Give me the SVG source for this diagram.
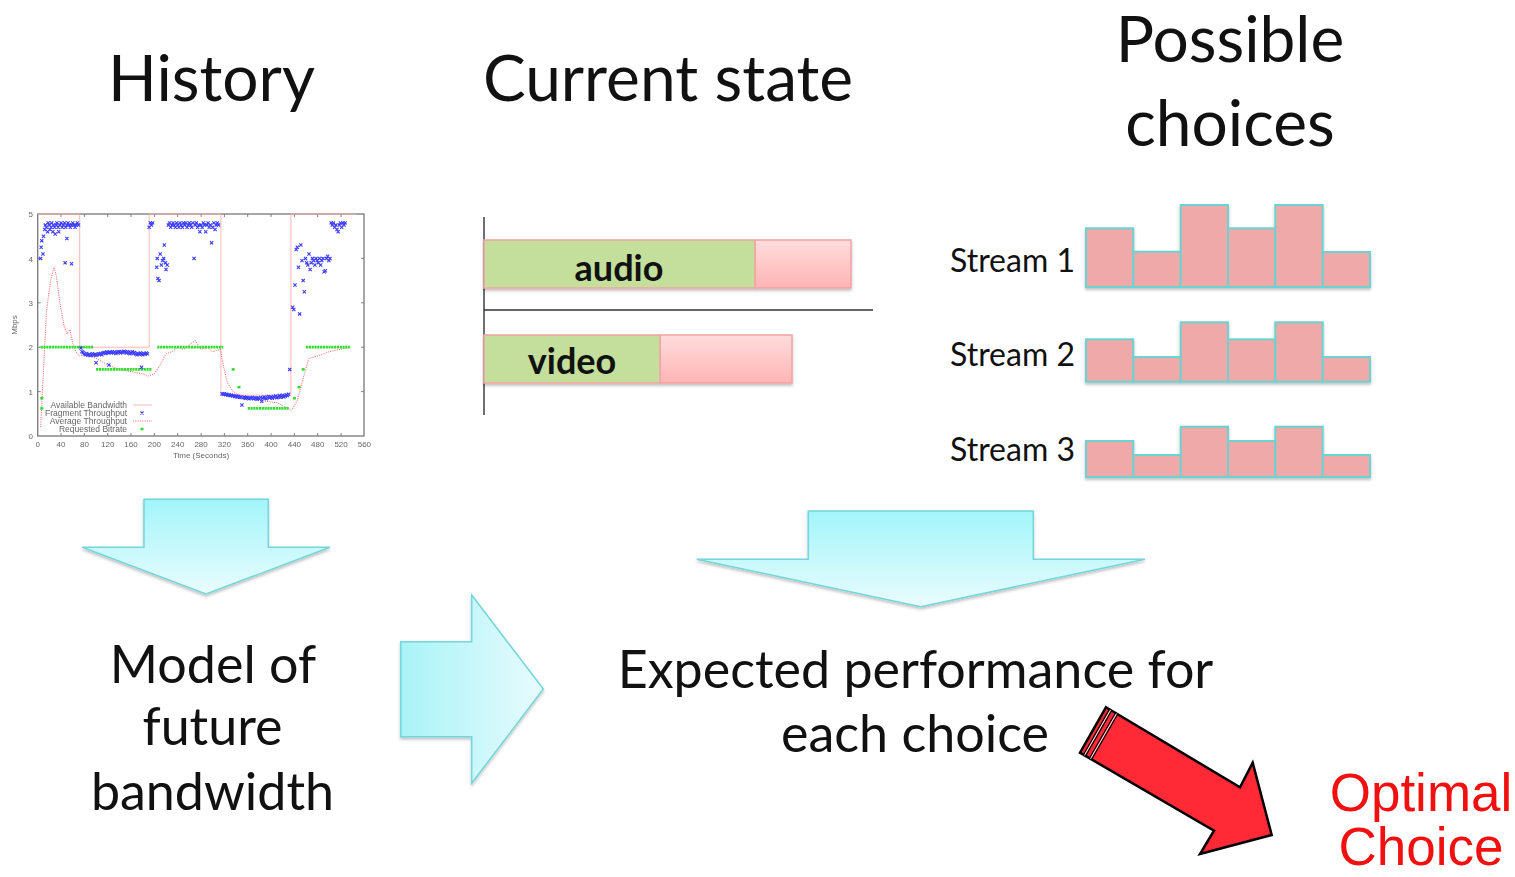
<svg xmlns="http://www.w3.org/2000/svg" width="1515" height="877" viewBox="0 0 1515 877">
  <defs>
    <style>
      .title { font-family: Lato, "Open Sans", sans-serif; font-size: 64px; fill: #111; text-anchor: middle; }
      .body { font-family: Lato, "Open Sans", sans-serif; font-size: 52px; fill: #111; text-anchor: middle; }
      .stream { font-family: Lato, "Open Sans", sans-serif; font-size: 32px; fill: #111; text-anchor: end; }
      .buf { font-family: Lato, "Open Sans", sans-serif; font-size: 36px; font-weight: bold; fill: #111; text-anchor: middle; }
      .opt { font-family: "Liberation Sans", Arial, sans-serif; font-size: 53px; fill: #f01010; text-anchor: middle; }
      .tick { font-family: "Liberation Sans", Arial, sans-serif; font-size: 8px; fill: #666; }
      .leg { font-family: "Liberation Sans", Arial, sans-serif; font-size: 8.5px; fill: #666; text-anchor: end; }
      .bar { fill: #eea9a8; stroke: #6cd2d2; stroke-width: 2; }
      .green { fill: #c4df9c; stroke: #f2a3a3; stroke-width: 1.5; }
      .pink { fill: url(#pinkGrad); stroke: #f2a3a3; stroke-width: 1.5; }
      .bigArrow { stroke: #72d6da; stroke-width: 1.5; stroke-linejoin: miter; }
      .ns { vector-effect: non-scaling-stroke; fill: none; }
    </style>
    <linearGradient id="downGrad" x1="0" y1="0" x2="0" y2="1">
      <stop offset="0" stop-color="#a2f5fa"/>
      <stop offset="1" stop-color="#eafcfd"/>
    </linearGradient>
    <linearGradient id="rightGrad" x1="0" y1="0" x2="1" y2="0">
      <stop offset="0" stop-color="#a8f3f7"/>
      <stop offset="1" stop-color="#e8fbfd"/>
    </linearGradient>
    <linearGradient id="pinkGrad" x1="0" y1="0" x2="0" y2="1">
      <stop offset="0" stop-color="#ffdcdc"/>
      <stop offset="1" stop-color="#ffb4b4"/>
    </linearGradient>
    <filter id="shadow" x="-10%" y="-10%" width="120%" height="130%">
      <feDropShadow dx="0" dy="2" stdDeviation="1.5" flood-color="#000" flood-opacity="0.25"/>
    </filter>
    <filter id="soft" x="-5%" y="-5%" width="110%" height="110%">
      <feGaussianBlur stdDeviation="0.6"/>
    </filter>
    <!-- data-space markers: the inner scale undoes the plot transform so shapes stay in pixels -->
    <marker id="bluePt" markerUnits="userSpaceOnUse" markerWidth="1" markerHeight="1" refX="0" refY="0" overflow="visible">
      <g transform="scale(1.7141,-0.022523)">
        <path d="M-1.6,-1.6 L1.6,1.6 M-1.6,1.6 L1.6,-1.6" stroke="#3c3cff" stroke-width="1.1" fill="none"/>
      </g>
    </marker>
    <marker id="greenPt" markerUnits="userSpaceOnUse" markerWidth="1" markerHeight="1" refX="0" refY="0" overflow="visible">
      <g transform="scale(1.7141,-0.022523)">
        <rect x="-1.5" y="-1.3" width="3" height="2.6" fill="#2fdc2f"/>
      </g>
    </marker>
  </defs>

  <rect width="1515" height="877" fill="#fff"/>

  <!-- column headings -->
  <g id="history-title"><text class="title" x="211.5" y="101">History</text></g>
  <g id="current-title"><text class="title" x="668" y="101" font-size="65.5">Current state</text></g>
  <g id="choices-title">
    <text class="title" x="1230" y="62">Possible</text>
    <text class="title" x="1230" y="146">choices</text>
  </g>

  <!-- bandwidth history plot -->
  <g id="history-chart" filter="url(#soft)">
    <rect x="37.7" y="214" width="326.3" height="222" fill="#fff" stroke="#777" stroke-width="1.3"/>
    <g stroke="#777" stroke-width="0.9">
      <path d="M61,436v-3M84.4,436v-3M107.7,436v-3M131,436v-3M154.4,436v-3M177.7,436v-3M201.1,436v-3M224.4,436v-3M247.7,436v-3M271.1,436v-3M294.4,436v-3M317.7,436v-3M341.1,436v-3"/>
      <path d="M61,214v3M84.4,214v3M107.7,214v3M131,214v3M154.4,214v3M177.7,214v3M201.1,214v3M224.4,214v3M247.7,214v3M271.1,214v3M294.4,214v3M317.7,214v3M341.1,214v3"/>
      <path d="M37.7,391.6h3M37.7,347.2h3M37.7,302.8h3M37.7,258.4h3M364,391.6h-3M364,347.2h-3M364,302.8h-3M364,258.4h-3"/>
    </g>
    <g class="tick" text-anchor="end">
      <text x="33" y="439">0</text><text x="33" y="394.5">1</text><text x="33" y="350.2">2</text>
      <text x="33" y="305.8">3</text><text x="33" y="261.5">4</text><text x="33" y="217">5</text>
    </g>
    <g class="tick" text-anchor="middle">
      <text x="37.7" y="446.5">0</text><text x="61" y="446.5">40</text><text x="84.4" y="446.5">80</text>
      <text x="107.7" y="446.5">120</text><text x="131" y="446.5">160</text><text x="154.4" y="446.5">200</text>
      <text x="177.7" y="446.5">240</text><text x="201.1" y="446.5">280</text><text x="224.4" y="446.5">320</text>
      <text x="247.7" y="446.5">360</text><text x="271.1" y="446.5">400</text><text x="294.4" y="446.5">440</text>
      <text x="317.7" y="446.5">480</text><text x="341.1" y="446.5">520</text><text x="364.4" y="446.5">560</text>
    </g>
    <text class="tick" x="201" y="457.5" text-anchor="middle" font-size="8.5">Time (Seconds)</text>
    <text class="tick" transform="translate(17,325) rotate(-90)" text-anchor="middle">Mbps</text>

    <!-- series, plotted in (seconds, Mbps) -->
    <g transform="translate(37.7,436) scale(0.5834,-44.4)">
      <path class="ns" stroke="#f7b0b0" stroke-width="0.9" d="M0,5 H72 V2 H191 V5 H314 V0.92 H434 V5 H545"/>
      <path class="ns" stroke="#ff5a5a" stroke-width="1" stroke-dasharray="1 1.3" d="M5,0.2 L10,1.5 L15,2.8 L22,3.5 L28,3.8 L32,3.6 L38,3 L45,2.5 L50,2.3 L55,2.4 L60,2.1 L65,1.9 L72,1.8 L80,1.85 L90,1.8 L100,1.75 L120,1.6 L140,1.5 L160,1.45 L180,1.4 L190,1.35 L200,1.4 L210,1.6 L220,1.85 L230,1.9 L240,2 L250,1.95 L260,2.05 L270,2.15 L280,1.95 L290,2 L300,1.9 L313,1.95 L318,1.6 L325,1.2 L335,1 L350,0.9 L380,0.8 L410,0.75 L435,0.58 L445,0.8 L455,1.3 L465,1.75 L480,1.8 L500,1.9 L535,2"/>
      <path class="ns" stroke="#2fdc2f" stroke-width="2.8" stroke-dasharray="2.2 0.6" d="M5,2 H95 M100,1.5 H195 M205,2 H318 M360,0.62 H430 M460,2 H535"/>
      <path fill="none" stroke="none" marker-start="url(#greenPt)" marker-mid="url(#greenPt)" marker-end="url(#greenPt)" d="M7,0.85 L7,0.62 L335,1.5 L345,1.1 L355,0.85 L440,0.85 L448,1.1 L455,1.5"/>
      <path fill="none" stroke="none" marker-start="url(#bluePt)" marker-mid="url(#bluePt)" marker-end="url(#bluePt)" d="M5,4 L6,4.25 L7,4.4 L9,4.1 L10,4.5 L12,4.65 L13,4.75 L15,4.7 L17,4.6 L18,4.8 L20,4.75 L21,4.65 L23,4.7 L24,4.8 L26,4.6 L27,4.75 L29,4.7 L30,4.55 L32,4.75 L33,4.8 L35,4.7 L36,4.6 L38,4.75 L40,4.8 L42,4.7 L44,4.75 L46,4.8 L48,4.7 L50,4.75 L52,4.8 L54,4.75 L56,4.7 L58,4.75 L60,4.8 L62,4.75 L64,4.7 L66,4.75 L68,4.8 L70,4.75 L47,3.9 L50,4.45 L58,3.88
      L74,1.98 L76,1.9 L78,1.88 L80,1.85 L82,1.83 L84,1.86 L86,1.82 L88,1.84 L90,1.81 L92,1.83 L94,1.85 L96,1.82 L98,1.84 L100,1.82 L102,1.83 L104,1.85 L106,1.84 L108,1.86 L110,1.83 L112,1.87 L114,1.88 L116,1.86 L118,1.89 L120,1.88 L122,1.87 L124,1.89 L126,1.88 L128,1.9 L130,1.87 L132,1.89 L134,1.86 L136,1.88 L138,1.9 L140,1.89 L142,1.87 L144,1.9 L146,1.88 L148,1.91 L150,1.89 L152,1.87 L154,1.9 L156,1.88 L158,1.85 L160,1.87 L162,1.9 L164,1.86 L166,1.88 L168,1.85 L170,1.83 L172,1.86 L174,1.84 L176,1.87 L178,1.85 L180,1.83 L182,1.86 L184,1.84 L186,1.87 L188,1.85 L100,1.65 L122,1.6 L178,1.55
      L191,4.7 L193,4.8 L195,4.75 L197,4.8 L204,3.8 L205,4 L206,3.55 L208,3.5 L210,4.1 L212,3.85 L214,3.95 L216,4 L217,4.3 L219,3.9 L220,3.75 L222,3.85 L224,4.75 L226,4.8 L228,4.7 L230,4.75 L232,4.8 L234,4.75 L236,4.7 L238,4.8 L240,4.75 L242,4.7 L244,4.8 L246,4.75 L248,4.7 L250,4.8 L252,4.75 L254,4.8 L256,4.7 L258,4.75 L260,4.8 L262,4.75 L264,4.7 L266,4.8 L268,4 L270,4.75 L272,4.8 L274,4.7 L276,4.75 L278,4.6 L280,4.75 L282,4.7 L284,4.8 L286,4.75 L288,4.6 L290,4.75 L292,4.8 L294,4.7 L296,4.75 L298,4.35 L300,4.7 L302,4.8 L304,4.65 L306,4.75 L308,4.8 L310,4.75
      L316,0.95 L318,0.94 L320,0.95 L322,0.93 L324,0.94 L326,0.92 L328,0.93 L330,0.91 L332,0.92 L334,0.9 L336,0.91 L338,0.89 L340,0.9 L342,0.88 L344,0.89 L346,0.87 L348,0.88 L350,0.7 L352,0.86 L354,0.88 L356,0.85 L358,0.87 L360,0.86 L362,0.84 L364,0.86 L366,0.85 L368,0.87 L370,0.84 L372,0.86 L374,0.85 L376,0.83 L378,0.86 L380,0.84 L382,0.87 L384,0.78 L386,0.85 L388,0.88 L390,0.86 L392,0.84 L394,0.87 L396,0.89 L398,0.86 L400,0.88 L402,0.85 L404,0.89 L406,0.87 L408,0.9 L410,0.86 L412,0.88 L414,0.91 L416,0.87 L418,0.89 L420,0.92 L422,0.88 L424,0.9 L426,0.93 L428,0.91 L430,0.94 L432,1.5
      L437,2.9 L439,2.85 L441,3.4 L443,4.2 L445,4.25 L447,3.8 L449,2.75 L451,4.3 L453,3.95 L455,3.5 L457,3.25 L459,4 L461,3.9 L463,3.85 L465,4.1 L467,3.75 L469,3.9 L471,4 L473,3.95 L475,3.85 L477,4 L479,3.95 L481,3.9 L483,4 L485,3.85 L487,3.95 L489,4 L491,3.7 L493,3.72 L495,4 L497,4.05 L499,3.95 L501,4 L503,4.8 L505,4.75 L507,4.8 L509,4.7 L511,4.75 L513,4.65 L515,4.6 L517,4.75 L519,4.8 L521,4.7 L523,4.8 L525,4.75 L527,4.8"/>
    </g>

    <!-- legend -->
    <g class="leg">
      <text x="127" y="407.5">Available Bandwidth</text>
      <text x="127" y="415.5">Fragment Throughput</text>
      <text x="127" y="423.5">Average Throughput</text>
      <text x="127" y="431.5">Requested Bitrate</text>
    </g>
    <path d="M133,405 H152" stroke="#f7b0b0" stroke-width="0.9"/>
    <path d="M140.5,411.5 l3,3 M140.5,414.5 l3,-3" stroke="#3c3cff" stroke-width="1.1"/>
    <path d="M133,421 H152" stroke="#ff5a5a" stroke-width="1" stroke-dasharray="1 1.3"/>
    <rect x="140.5" y="427.7" width="3" height="2.6" fill="#2fdc2f"/>
  </g>

  <!-- buffer occupancy bars -->
  <g id="current-state">
    <path d="M484,217 V415 M484,310 H873" stroke="#333" stroke-width="1.4" fill="none"/>
    <g filter="url(#shadow)">
      <rect class="pink" x="755" y="240" width="96" height="48"/>
      <rect class="green" x="484" y="240" width="271" height="48"/>
      <rect class="pink" x="660" y="335" width="132" height="48"/>
      <rect class="green" x="484" y="335" width="176" height="48"/>
    </g>
    <text class="buf" x="619" y="281">audio</text>
    <text class="buf" x="572" y="374">video</text>
  </g>

  <!-- bitrate profiles of each candidate stream -->
  <g id="stream-1">
    <text class="stream" x="1075" y="272">Stream 1</text>
    <g filter="url(#shadow)">
      <rect class="bar" x="1086" y="228.3" width="47.3" height="58.7"/>
      <rect class="bar" x="1133.3" y="251.7" width="47.4" height="35.3"/>
      <rect class="bar" x="1180.7" y="205" width="47.3" height="82"/>
      <rect class="bar" x="1228" y="228.3" width="47.3" height="58.7"/>
      <rect class="bar" x="1275.3" y="205" width="47.4" height="82"/>
      <rect class="bar" x="1322.7" y="252" width="47.3" height="35"/>
    </g>
  </g>
  <g id="stream-2">
    <text class="stream" x="1075" y="366">Stream 2</text>
    <g filter="url(#shadow)">
      <rect class="bar" x="1086" y="339.3" width="47.3" height="42.4"/>
      <rect class="bar" x="1133.3" y="357" width="47.4" height="24.7"/>
      <rect class="bar" x="1180.7" y="322.3" width="47.3" height="59.4"/>
      <rect class="bar" x="1228" y="339.3" width="47.3" height="42.4"/>
      <rect class="bar" x="1275.3" y="322.3" width="47.4" height="59.4"/>
      <rect class="bar" x="1322.7" y="357" width="47.3" height="24.7"/>
    </g>
  </g>
  <g id="stream-3">
    <text class="stream" x="1075" y="461">Stream 3</text>
    <g filter="url(#shadow)">
      <rect class="bar" x="1086" y="441" width="47.3" height="36"/>
      <rect class="bar" x="1133.3" y="455" width="47.4" height="22"/>
      <rect class="bar" x="1180.7" y="426.7" width="47.3" height="50.3"/>
      <rect class="bar" x="1228" y="441" width="47.3" height="36"/>
      <rect class="bar" x="1275.3" y="426.7" width="47.4" height="50.3"/>
      <rect class="bar" x="1322.7" y="455" width="47.3" height="22"/>
    </g>
  </g>

  <!-- derived quantities -->
  <g id="bandwidth-model">
    <text class="body" x="213" y="683">Model of</text>
    <text class="body" x="212.5" y="745">future</text>
    <text class="body" x="212.5" y="810">bandwidth</text>
  </g>
  <g id="expected-performance">
    <text class="body" x="915.5" y="688">Expected performance for</text>
    <text class="body" x="915" y="752">each choice</text>
  </g>
  <g id="optimal-choice">
    <text class="opt" x="1421" y="811">Optimal</text>
    <text class="opt" x="1421" y="865">Choice</text>
  </g>

  <!-- connectors -->
  <g id="connectors">
    <g filter="url(#shadow)">
      <polygon class="bigArrow" fill="url(#downGrad)" points="144,499.3 268.3,499.3 268.3,547.3 330,547.3 206,594 82.3,547.3 144,547.3"/>
      <polygon class="bigArrow" fill="url(#downGrad)" points="808.3,511 1033.3,511 1033.3,559.3 1145,559.3 920.7,606.7 696.7,559.3 808.3,559.3"/>
      <polygon class="bigArrow" fill="url(#rightGrad)" points="400.7,641.7 471.7,641.7 471.7,595 543.3,689 471.7,783.3 471.7,736.7 400.7,736.7"/>
    </g>
    <g id="striped-arrow">
      <polygon points="1106,707.3 1240,787.3 1252.7,762.7 1271.7,835 1200,854 1214,830.7 1080,752.7" fill="#ff2a36" stroke="#000" stroke-width="2.5" stroke-linejoin="miter"/>
      <path d="M1109.4,709.4 L1083.5,754.7 M1111.6,710.6 L1085.6,755.9 M1115.4,713 L1089.5,758.2 M1117.6,714.2 L1091.6,759.4" stroke="#000" stroke-width="1.3"/>
      <path d="M1110.5,710 L1084.5,755.3 M1116.5,713.6 L1090.5,758.8" stroke="#fff" stroke-width="0.9"/>
    </g>
  </g>
</svg>
